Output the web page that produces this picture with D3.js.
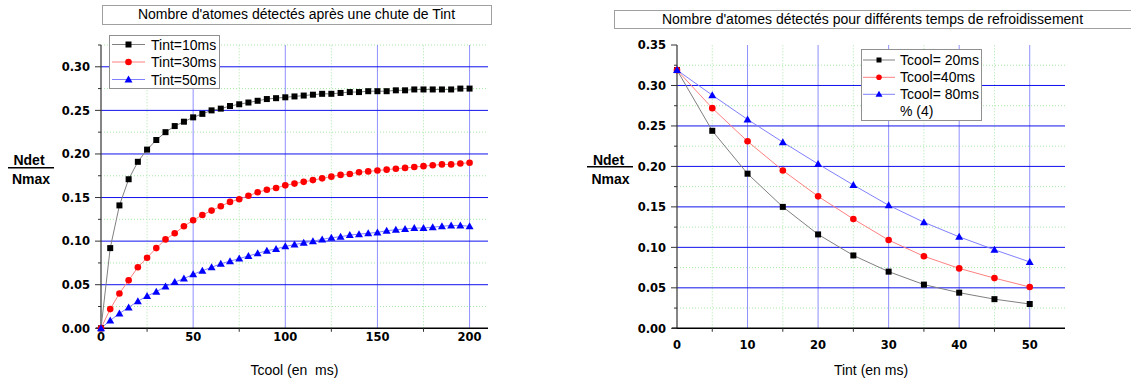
<!DOCTYPE html>
<html><head><meta charset="utf-8">
<script src="https://cdn.jsdelivr.net/npm/d3@7"></script>
<style>body{margin:0;background:#fff}svg{display:block}</style>
</head><body>
<svg id="c" width="1131" height="383"></svg>
<script>
// ---------- DATA ----------
const leftTitle = "Nombre d'atomes détectés après une chute de Tint";
const rightTitle = "Nombre d'atomes détectés pour différents temps de refroidissement";
const leftXLabel = "Tcool (en  ms)";
const rightXLabel = "Tint (en ms)";
const leftSeriesNames = ["Tint=10ms", "Tint=30ms", "Tint=50ms"];
const rightSeriesNames = ["Tcool= 20ms", "Tcool=40ms", "Tcool= 80ms"];
const rightLegendExtra = "% (4)";

const tcool = [0,5,10,15,20,25,30,35,40,45,50,55,60,65,70,75,80,85,90,95,100,
  105,110,115,120,125,130,135,140,145,150,155,160,165,170,175,180,185,190,195,200];
const tint10 = [0,0.092,0.141,0.171,0.191,0.205,0.216,0.225,0.232,0.237,0.242,0.246,0.250,0.252,0.255,0.257,0.259,0.261,0.263,0.264,0.265,
  0.266,0.267,0.268,0.269,0.269,0.270,0.271,0.271,0.272,0.272,0.272,0.273,0.273,0.274,0.274,0.274,0.274,0.274,0.275,0.275];
const tint30 = [0,0.022,0.040,0.055,0.070,0.081,0.092,0.102,0.109,0.117,0.124,0.130,0.135,0.140,0.145,0.148,0.152,0.156,0.159,0.161,0.164,
  0.166,0.168,0.170,0.172,0.174,0.176,0.177,0.179,0.180,0.181,0.182,0.183,0.184,0.185,0.186,0.187,0.188,0.188,0.189,0.190];
const tint50 = [0,0.009,0.017,0.024,0.031,0.037,0.042,0.048,0.053,0.057,0.062,0.066,0.070,0.074,0.077,0.080,0.083,0.086,0.089,0.091,0.094,
  0.096,0.098,0.100,0.102,0.104,0.105,0.107,0.108,0.109,0.110,0.112,0.113,0.114,0.115,0.115,0.116,0.117,0.118,0.118,0.117];

const tintX = [0,5,10,15,20,25,30,35,40,45,50];
const tcool20 = [0.319,0.244,0.191,0.150,0.116,0.090,0.070,0.054,0.044,0.036,0.030];
const tcool40 = [0.319,0.272,0.231,0.195,0.163,0.135,0.109,0.089,0.074,0.062,0.051];
const tcool80 = [0.319,0.288,0.258,0.230,0.203,0.177,0.152,0.131,0.113,0.097,0.082];

const leftXTicks = [0,50,100,150,200];
const leftXMinor = [25,75,125,175];
const leftYTicks = [0,0.05,0.10,0.15,0.20,0.25,0.30];
const leftYMinor = [0.025,0.075,0.125,0.175,0.225,0.275,0.325];
const rightXTicks = [0,10,20,30,40,50];
const rightXMinor = [5,15,25,35,45];
const rightYTicks = [0,0.05,0.10,0.15,0.20,0.25,0.30,0.35];
const rightYMinor = [0.025,0.075,0.125,0.175,0.225,0.275,0.325];

// ---------- DRAW ----------
const svg = d3.select("#c");
const ARIAL = "'Liberation Sans', Arial, sans-serif";
const DEJA = "'DejaVu Sans', sans-serif";
const styles = [
  {line:"#808080", fill:"#000000", shape:"square"},
  {line:"#ff8080", fill:"#ff0000", shape:"circle"},
  {line:"#8080ff", fill:"#0000ff", shape:"triangle"}
];

function marker(g, shape, cx, cy, fill, s) {
  if (shape === "square") {
    g.append("rect").attr("x", cx - s/2).attr("y", cy - s/2).attr("width", s).attr("height", s).attr("fill", fill);
  } else if (shape === "circle") {
    g.append("circle").attr("cx", cx).attr("cy", cy).attr("r", s/2 + 0.3).attr("fill", fill);
  } else {
    const w = s + 2, h = s + 1;
    g.append("path").attr("d", `M${cx},${cy - h/2 - 0.5}L${cx + w/2},${cy + h/2 - 0.5}L${cx - w/2},${cy + h/2 - 0.5}Z`).attr("fill", fill);
  }
}

function chart(o) {
  const g = svg.append("g");
  const x = d3.scaleLinear().domain(o.xDomain).range(o.xRange);
  const y = d3.scaleLinear().domain(o.yDomain).range(o.yRange);
  const [x0, x1] = o.xRange, [y0, y1] = o.yRange;

  // minor grid (dotted green)
  o.xMinor.forEach(v => g.append("line").attr("x1", x(v)).attr("x2", x(v)).attr("y1", y0).attr("y2", y1)
    .attr("stroke", "#a8e8a8").attr("stroke-width", 1).attr("stroke-dasharray", "1,2"));
  o.yMinor.forEach(v => g.append("line").attr("x1", x0).attr("x2", x1).attr("y1", y(v)).attr("y2", y(v))
    .attr("stroke", "#a8e8a8").attr("stroke-width", 1).attr("stroke-dasharray", "1,2"));
  // major grid
  o.xTicks.filter(v => v !== 0).forEach(v => g.append("line").attr("x1", x(v)).attr("x2", x(v)).attr("y1", y0).attr("y2", y1)
    .attr("stroke", "#9090ff").attr("stroke-width", 1));
  o.yTicks.filter(v => v !== 0 && v <= o.yGridMax).forEach(v => g.append("line").attr("x1", x0).attr("x2", x1).attr("y1", y(v)).attr("y2", y(v))
    .attr("stroke", "#1010ee").attr("stroke-width", 1));

  // axes
  g.append("line").attr("x1", x0).attr("x2", x0).attr("y1", y0).attr("y2", y1).attr("stroke", "#333").attr("stroke-width", 1.2);
  g.append("line").attr("x1", x0 - 5).attr("x2", x1).attr("y1", y0).attr("y2", y0).attr("stroke", "#000").attr("stroke-width", 1.6);
  o.yTicks.forEach(v => g.append("line").attr("x1", x0 - 6).attr("x2", x0).attr("y1", y(v)).attr("y2", y(v)).attr("stroke", "#333"));
  o.yMinor.forEach(v => g.append("line").attr("x1", x0 - 3).attr("x2", x0).attr("y1", y(v)).attr("y2", y(v)).attr("stroke", "#333"));
  o.xMinor.forEach(v => g.append("line").attr("x1", x(v)).attr("x2", x(v)).attr("y1", y0).attr("y2", y0 + 3.5).attr("stroke", "#333"));

  const yFmt = d3.format(".2f");
  o.yTicks.forEach(v => g.append("text").attr("x", x0 - 11).attr("y", y(v) + 4.2).attr("text-anchor", "end")
    .attr("font-family", DEJA).attr("font-weight", "bold").attr("font-size", "11.5px").attr("fill", "#000").text(yFmt(v)));
  o.xTicks.forEach(v => g.append("text").attr("x", x(v)).attr("y", o.xLabelY).attr("text-anchor", "middle")
    .attr("font-family", DEJA).attr("font-weight", "bold").attr("font-size", "11.5px").attr("fill", "#000").text(v));

  // x title
  g.append("text").attr("x", (x0 + x1) / 2).attr("y", 375).attr("text-anchor", "middle")
    .attr("font-family", ARIAL).attr("font-size", "14px").attr("fill", "#000")
    .style("white-space", "pre").text(o.xLabel);

  // y title fraction
  g.append("text").attr("x", o.yLab.cx).attr("y", 165).attr("text-anchor", "middle")
    .attr("font-family", ARIAL).attr("font-weight", "bold").attr("font-size", "14px").text("Ndet");
  g.append("line").attr("x1", o.yLab.l1).attr("x2", o.yLab.l2).attr("y1", o.yLab.ly).attr("y2", o.yLab.ly)
    .attr("stroke", "#000").attr("stroke-width", 1.5);
  g.append("text").attr("x", o.yLab.cx + 2).attr("y", 184.3).attr("text-anchor", "middle")
    .attr("font-family", ARIAL).attr("font-weight", "bold").attr("font-size", "14px").text("Nmax");

  // title box
  g.append("rect").attr("x", o.title.x0 + 0.5).attr("y", o.title.y0 + 0.5).attr("width", o.title.x1 - o.title.x0)
    .attr("height", o.title.y1 - o.title.y0).attr("fill", "#fff").attr("stroke", "#a0a0a0");
  g.append("text").attr("x", (o.title.x0 + o.title.x1) / 2).attr("y", o.title.base).attr("text-anchor", "middle")
    .attr("font-family", ARIAL).attr("font-size", "14px").attr("fill", "#000").text(o.title.text);

  // series
  const line = d3.line().x(d => x(d[0])).y(d => y(d[1]));
  o.series.forEach((s, i) => {
    const pts = o.xs.map((xv, j) => [xv, s[j]]);
    g.append("path").attr("d", line(pts)).attr("fill", "none").attr("stroke", styles[i].line).attr("stroke-width", 1);
  });
  o.series.forEach((s, i) => {
    const mg = g.append("g");
    o.xs.forEach((xv, j) => marker(mg, styles[i].shape, x(xv), y(s[j]), styles[i].fill, 6));
  });

  // legend
  const L = o.legend;
  g.append("rect").attr("x", L.x0 + 0.5).attr("y", L.y0 + 0.5).attr("width", L.x1 - L.x0).attr("height", L.y1 - L.y0)
    .attr("fill", "#fff").attr("stroke", "#909090");
  o.names.forEach((n, i) => {
    const cy = L.rows[i];
    g.append("line").attr("x1", L.l1).attr("x2", L.l2).attr("y1", cy).attr("y2", cy).attr("stroke", styles[i].line);
    marker(g, styles[i].shape, (L.l1 + L.l2) / 2, cy, styles[i].fill, L.ms);
    g.append("text").attr("x", L.tx).attr("y", cy + 5).attr("font-family", ARIAL).attr("font-size", "14px")
      .attr("fill", "#000").style("white-space", "pre").text(n);
  });
  if (L.extra) {
    g.append("text").attr("x", L.tx).attr("y", L.rows[3] + 5).attr("font-family", ARIAL).attr("font-size", "14px")
      .attr("fill", "#000").text(L.extra);
  }
}

chart({
  xDomain: [0, 210], yDomain: [0, 0.325], xRange: [101, 488], yRange: [328.3, 45],
  xTicks: leftXTicks, xMinor: leftXMinor, yTicks: leftYTicks, yMinor: leftYMinor, yGridMax: 0.30,
  xLabelY: 340.5, xLabel: leftXLabel,
  yLab: {cx: 29, l1: 8, l2: 54, ly: 167.7},
  title: {x0: 102, x1: 491, y0: 5, y1: 24, base: 19, text: leftTitle},
  xs: tcool, series: [tint10, tint30, tint50], names: leftSeriesNames,
  legend: {x0: 109, x1: 219, y0: 35, y1: 88, l1: 112, l2: 145, tx: 151, rows: [44.5, 62, 79.5], ms: 6}
});
chart({
  xDomain: [0, 55], yDomain: [0, 0.35], xRange: [677, 1065], yRange: [328.3, 45],
  xTicks: rightXTicks, xMinor: rightXMinor, yTicks: rightYTicks, yMinor: rightYMinor, yGridMax: 0.30,
  xLabelY: 349, xLabel: rightXLabel,
  yLab: {cx: 608.5, l1: 587, l2: 633, ly: 166.7},
  title: {x0: 614, x1: 1131, y0: 10, y1: 28, base: 24.3, text: rightTitle},
  xs: tintX, series: [tcool20, tcool40, tcool80], names: rightSeriesNames,
  legend: {x0: 861, x1: 981, y0: 49, y1: 120, l1: 863, l2: 895, tx: 900, rows: [60, 77.3, 94.3, 111], ms: 5, extra: rightLegendExtra}
});
</script>
</body></html>
